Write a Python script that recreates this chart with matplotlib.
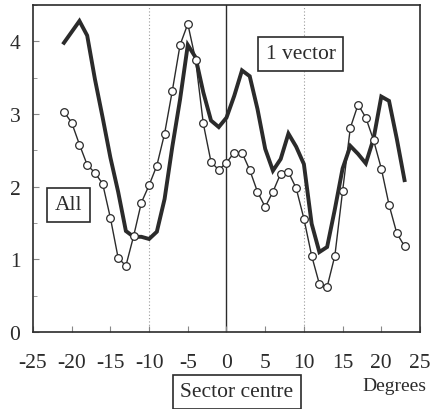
import matplotlib
matplotlib.use("Agg")
import matplotlib.pyplot as plt
from matplotlib.ticker import MultipleLocator

plt.rcParams['font.family'] = ['Liberation Serif', 'DejaVu Serif']

# angle from sector centre, degrees
angles = list(range(-21, 24))

# thick line: all vectors
all_vals = [3.98, 4.13, 4.28, 4.08, 3.48, 2.95, 2.40, 1.93, 1.39, 1.31,
            1.31, 1.28, 1.38, 1.83, 2.55, 3.20, 3.95, 3.78, 3.30, 2.91,
            2.82, 2.95, 3.25, 3.60, 3.52, 3.07, 2.52, 2.22, 2.38, 2.73,
            2.55, 2.31, 1.49, 1.10, 1.17, 1.69, 2.25, 2.56, 2.45, 2.32,
            2.66, 3.24, 3.18, 2.66, 2.09]

# thin line with open circles: 1 vector
one_vals = [3.03, 2.88, 2.58, 2.30, 2.19, 2.04, 1.57, 1.02, 0.91, 1.32,
            1.78, 2.02, 2.29, 2.73, 3.32, 3.95, 4.24, 3.75, 2.87, 2.34,
            2.23, 2.33, 2.47, 2.47, 2.23, 1.93, 1.72, 1.93, 2.18, 2.20,
            1.98, 1.56, 1.05, 0.66, 0.62, 1.05, 1.94, 2.81, 3.13, 2.95,
            2.64, 2.25, 1.75, 1.36, 1.18]

xticks = [-25, -20, -15, -10, -5, 0, 5, 10, 15, 20, 25]
xtick_labels = ["-25", "-20", "-15", "-10", "-5", "0", "5", "10", "15", "20", "25"]
yticks = [0, 1, 2, 3, 4]

ink = "#2b2b2b"
fs = 15.5

fig = plt.figure(figsize=(4.31, 4.10), dpi=100)
ax = fig.add_axes([33/431, 1 - 333/410, 387/431, 327/410])

ax.axvline(-10, color="#9a9a9a", lw=0.8, ls=(0, (1, 2)), zorder=1)
ax.axvline(10, color="#9a9a9a", lw=0.8, ls=(0, (1, 2)), zorder=1)
ax.axvline(0, color=ink, lw=1.0, zorder=1)

ax.plot(angles, all_vals, color=ink, lw=2.8, solid_joinstyle="miter", zorder=2)
ax.plot(angles, one_vals, color=ink, lw=1.0, marker="o", ms=5.5,
        mfc="white", mec=ink, mew=0.9, zorder=3)

ax.set_xlim(-25, 25)
ax.set_ylim(0, 4.5)
ax.set_xticks(xticks)
ax.set_xticklabels(xtick_labels)
ax.set_yticks(yticks)
ax.yaxis.set_minor_locator(MultipleLocator(0.5))
ax.tick_params(axis="both", which="both", direction="in", color="#888888",
               labelsize=fs, colors=ink)
ax.tick_params(axis="x", which="major", length=4, pad=15)
ax.tick_params(axis="y", which="major", length=4, pad=9)
ax.tick_params(axis="y", which="minor", length=3)
for s in ax.spines.values():
    s.set_color(ink)
    s.set_linewidth(1.2)

box = dict(boxstyle="square,pad=0.35", fc="white", ec=ink, lw=1.2)
ax.text(9.6, 3.83, "1 vector", fontsize=fs, color=ink, ha="center",
        va="center", bbox=box)
ax.text(-20.4, 1.75, "All", fontsize=fs, color=ink, ha="center",
        va="center", bbox=box)

fig.text(237/431, 1 - 393/410, "Sector centre", fontsize=fs, color=ink,
         ha="center", va="center", bbox=box)
fig.text(362/431, 1 - 387/410, "Degrees", fontsize=14, color=ink,
         ha="left", va="center")

fig.savefig("out.png", dpi=100)
